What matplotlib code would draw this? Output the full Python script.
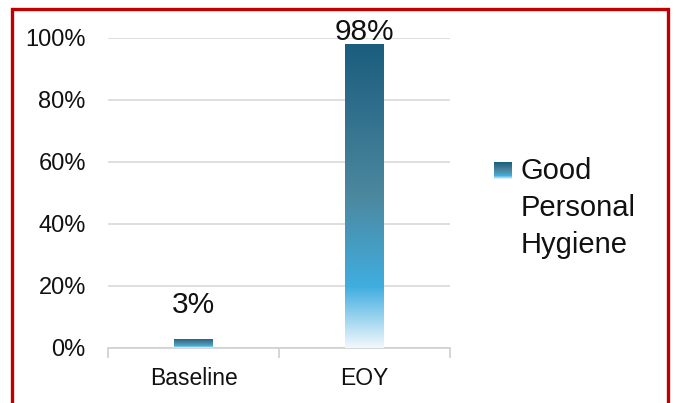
import numpy as np
import matplotlib.pyplot as plt
from matplotlib.colors import LinearSegmentedColormap
from matplotlib.patches import Rectangle

# data
categories = ["Baseline", "EOY"]
values = [0.03, 0.98]
series_name = "Good Personal Hygiene"
label_offsets = [20, -2]  # px above bar top for the value labels

plt.rcParams['font.family'] = ['Liberation Sans', 'DejaVu Sans']

# vertical gradient used on the bars (bottom -> top)
grad = LinearSegmentedColormap.from_list(
    "grad",
    [(0.0, "#f2f8fc"), (0.2, "#40aee0"), (0.5, "#4c889f"), (1.0, "#1b5d7e")])
ramp = np.linspace(0, 1, 256).reshape(-1, 1)

fig = plt.figure(figsize=(6.78, 4.03), dpi=100)
ax = fig.add_axes([108 / 678, 55 / 403, 342 / 678, 310 / 403])

x = np.arange(len(categories))
bars = ax.bar(x, values, width=0.228, color="none", edgecolor="none", zorder=3)
for b in bars:
    im = ax.imshow(ramp, cmap=grad, origin="lower", aspect="auto",
                   extent=[b.get_x(), b.get_x() + b.get_width(), 0, b.get_height()],
                   zorder=3)
    im.set_clip_path(b)

for i, (b, v) in enumerate(zip(bars, values)):
    ax.annotate(f"{v:.0%}", (b.get_x() + b.get_width() / 2, v),
                xytext=(0, label_offsets[i] * 0.72), textcoords="offset points",
                ha="center", va="bottom", fontsize=21.5, color="#111111", zorder=4)

ax.set_xlim(-0.5, 1.5)
ax.set_ylim(0, 1.0)
ax.set_yticks(np.arange(0, 1.01, 0.2))
ax.set_yticklabels([f"{t:.0%}" for t in np.arange(0, 1.01, 0.2)])
ax.set_xticks(x)
ax.set_xticklabels(categories)
ax.set_xticks([-0.5, 0.5, 1.5], minor=True)
ax.tick_params(axis="y", length=0, pad=16, labelsize=17, labelcolor="#111111")
ax.tick_params(axis="x", which="major", length=0, pad=14, labelsize=16.5, labelcolor="#111111")
ax.tick_params(axis="x", which="minor", length=7, width=1.2, color="#d0d0d0")
ax.grid(axis="y", color="#d9d9d9", linewidth=1.2, zorder=0)
for s in ["top", "right", "left"]:
    ax.spines[s].set_visible(False)
ax.spines["bottom"].set_color("#d0d0d0")
ax.spines["bottom"].set_linewidth(1.2)
ax.set_axisbelow(True)

# legend: gradient swatch + wrapped label
lax = fig.add_axes([494 / 678, 1 - 179 / 403, 18 / 678, 17 / 403])
lax.imshow(ramp, cmap=grad, origin="lower", aspect="auto")
lax.axis("off")
fig.text(521 / 678, 1 - 157 / 403, series_name.replace(" ", "\n"),
         ha="left", va="top", fontsize=21, color="#111111", linespacing=1.42)

# red frame around the chart
fig.patches.append(Rectangle((11.5 / 678, -0.1), 656 / 678, 1.1 - 9.5 / 403,
                             transform=fig.transFigure, fill=False,
                             edgecolor="#c00000", linewidth=2.4))

fig.savefig("out.png", dpi=100)
